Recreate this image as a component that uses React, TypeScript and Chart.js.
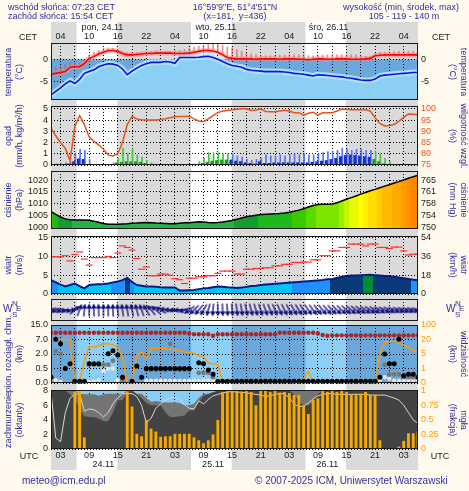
import React, { useEffect, useRef } from 'react';
import { Chart, registerables, LinearScale } from 'chart.js';

Chart.register(...registerables);

// ---------------- DATA (UTC hours from 24.11 00:00) ----------------
const HOURS = Array.from({ length: 78 }, (_, i) => i + 1);
const X_MIN = 1;
const X_MAX = 78;
const GRID_HOURS = [3, 6, 9, 12, 15, 18, 21, 24, 27, 30, 33, 36, 39, 42, 45, 48, 51, 54, 57, 60, 63, 66, 69, 72, 75];
const LABEL_HOURS = [3, 9, 15, 21, 27, 33, 39, 45, 51, 57, 63, 69, 75];
const CET_LABELS = ['04', '10', '16', '22', '04', '10', '16', '22', '04', '10', '16', '22', '04'];
const UTC_LABELS = ['03', '09', '15', '21', '03', '09', '15', '21', '03', '09', '15', '21', '03'];
const TOP_DATE_HOURS = [7.4, 31.3, 55.1];
const TOP_DATE_LABELS = ['pon, 24.11', 'wto, 25.11', 'śro, 26.11'];
const BOTTOM_DATE_HOURS = [12, 35, 59];
const BOTTOM_DATE_LABELS = ['24.11', '25.11', '26.11'];
const SUNRISE_UTC = 6.38;
const SUNSET_UTC = 14.9;
const DAY_OFFSETS = [0, 24, 48, 72];

const TEMP = [-3.4, -3.2, -3.0, -2.8, -1.8, -1.7, -1.7, -1.0, 0.2, 0.6,
  1.2, 1.6, 2.0, 2.0, 1.8, 1.3, 1.0, 1.0, 1.1, 1.2,
  1.3, 1.3, 1.4, 1.4, 1.4, 1.4, 1.3, 1.3, 1.3, 1.4,
  1.6, 1.8, 2.0, 2.0, 1.9, 1.6, 1.0, 0.4, 0.2, 0.1,
  0.1, 0.1, 0.1, 0.0, 0.1, 0.1, 0.1, 0.1, 0.0, 0.1,
  0.1, 0.1, 0.0, 0.0, -0.1, 0.0, 0.1, 0.1, 0.0, 0.0,
  0.1, 0.1, 0.1, 0.0, 0.0, 0.0, 0.1, 0.2, 0.8, 0.9,
  1.0, 1.0, 1.0, 1.0, 1.0, 1.0, 1.0, 1.0];
const TEMP_HI = [-2.2, -1.8, -1.6, -1.2, -0.8, -0.8, -0.9, -0.2, 1.0, 1.6,
  2.0, 2.5, 2.6, 2.5, 2.2, 1.6, 1.4, 1.5, 1.5, 1.6,
  1.7, 1.7, 1.8, 1.8, 1.8, 1.8, 1.9, 2.0, 2.2, 2.4,
  2.8, 3.0, 3.2, 3.4, 3.5, 3.4, 3.2, 2.8, 2.6, 2.2,
  1.8, 1.5, 1.2, 1.0, 0.9, 0.8, 0.8, 0.8, 0.9, 0.9,
  1.0, 1.0, 1.0, 1.0, 0.8, 0.8, 0.8, 0.9, 1.0, 1.0,
  1.0, 1.1, 1.0, 1.0, 1.0, 0.8, 0.7, 0.6, 1.3, 1.6,
  1.6, 1.7, 1.7, 1.8, 1.8, 1.8, 1.8, 1.8];
const DEW = [-8.1, -7.3, -6.5, -5.6, -4.9, -5.5, -4.6, -3.2, -2.8, -2.4,
  -1.7, -1.3, -1.0, -1.1, -1.4, -2.2, -3.5, -2.7, -2.0, -1.4,
  -1.0, -0.7, -0.7, -0.7, -0.5, -0.6, -0.9, 0.4, 0.4, 0.4,
  0.4, 0.45, 0.6, 0.7, 0.4, 0.0, -0.5, -1.0, -1.4, -1.6,
  -1.8, -2.3, -2.5, -2.6, -2.7, -2.8, -2.8, -2.8, -2.8, -2.9,
  -3.0, -3.2, -3.3, -3.4, -3.6, -3.8, -3.5, -3.6, -3.7, -3.8,
  -3.9, -4.0, -4.2, -4.3, -4.5, -4.7, -4.8, -4.8, -4.5, -3.8,
  -3.6, -3.5, -3.4, -3.3, -3.2, -3.1, -3.0, -3.0];

const HUMIDITY = [91.4, 88, 85, 82.4, 77, 92, 97, 93, 87.5, 85.5,
  84, 82, 79.5, 79, 80, 85, 93, 96.6, 95.5, 95.1,
  95, 95, 95, 95.3, 95.6, 96, 96.5, 96.6, 96.6, 96.6,
  95.5, 94.6, 94.3, 95.5, 97, 98.3, 99, 99.3, 99.6, 99.8,
  100, 100, 99.3, 99.5, 100, 98.8, 98.7, 98.7, 99, 99.4,
  99, 98.3, 98.3, 97.2, 98, 98.5, 97.2, 98.2, 98.3, 98.3,
  99, 99.9, 99.8, 99.6, 99.6, 99.6, 99.6, 99, 96, 93.5,
  92.4, 92.6, 93, 94.5, 96.2, 97.7, 97.6, 97.4];
const PRECIP_MEAN = [0, 0.02, 0.03, 0.05, 0.1, 0.3, 0.55, 0.5, 0.05, 0,
  0, 0, 0, 0.05, 0.2, 0.25, 0.3, 0.3, 0.3, 0.25,
  0.15, 0.05, 0, 0, 0, 0, 0, 0, 0, 0,
  0.02, 0.05, 0.15, 0.25, 0.35, 0.4, 0.45, 0.45, 0.45, 0.35,
  0.3, 0.2, 0.15, 0.1, 0.3, 0.15, 0.15, 0.2, 0.2, 0.2,
  0.2, 0.2, 0.2, 0.2, 0.2, 0.25, 0.3, 0.35, 0.4, 0.5,
  0.6, 0.75, 0.85, 0.9, 0.85, 0.8, 0.75, 0.7, 0.5, 0.3,
  0.1, 0, 0, 0, 0, 0, 0, 0.05];
const PRECIP_MAX = [0, 0.1, 0.1, 0.2, 0.3, 1.0, 1.4, 1.3, 0.5, 0,
  0, 0, 0, 0.2, 0.6, 1.5, 1.0, 1.5, 0.9, 0.7,
  0.4, 0.2, 0, 0, 0, 0, 0, 0, 0, 0,
  0.1, 0.3, 0.6, 1.1, 1.1, 1.1, 1.0, 1.0, 1.0, 0.8,
  0.7, 0.5, 0.4, 0.5, 0.6, 0.9, 0.8, 0.8, 0.9, 0.8,
  0.9, 1.0, 0.9, 1.0, 0.9, 0.9, 1.0, 1.1, 1.2, 1.2,
  1.3, 1.5, 1.4, 1.3, 1.4, 1.4, 1.3, 1.3, 1.2, 1.0,
  0.6, 0.3, 0, 0, 0, 0, 0, 0.1];

const PRESSURE = [1006.7, 1005.5, 1004.4, 1003.6, 1003.2, 1003.1, 1003.1, 1003.1, 1003.0, 1002.6,
  1002.2, 1001.6, 1001.3, 1001.3, 1001.3, 1001.4, 1001.5, 1001.7, 1001.8, 1002.0,
  1002.1, 1002.0, 1001.8, 1001.7, 1001.6, 1001.5, 1001.5, 1001.7, 1001.9, 1002.0,
  1002.2, 1002.4, 1002.3, 1002.1, 1002.0, 1002.1, 1002.3, 1002.6, 1002.9, 1003.4,
  1004.0, 1004.5, 1004.8, 1005.1, 1005.4, 1005.6, 1005.7, 1005.8, 1005.9, 1006.1,
  1006.4, 1006.8, 1007.3, 1007.9, 1008.6, 1009.3, 1009.7, 1009.8, 1009.8, 1009.9,
  1010.4, 1011.2, 1011.9, 1012.6, 1013.3, 1014.1, 1014.8, 1015.5, 1016.1, 1016.8,
  1017.5, 1018.1, 1018.8, 1019.4, 1020.1, 1020.8, 1021.5, 1022.1];

const WIND = [3.7, 3.1, 2.5, 2.0, 2.4, 2.8, 2.1, 1.5, 2.4, 2.5,
  2.6, 2.65, 2.8, 3.1, 3.3, 3.7, 4.3, 3.2, 2.4, 2.2,
  2.0, 2.0, 1.9, 1.8, 1.75, 1.75, 1.75, 0.9, 0.9, 1.0,
  1.05, 1.3, 1.5, 1.6, 1.8, 2.0, 1.9, 1.8, 1.75, 1.6,
  1.7, 1.9, 2.1, 2.2, 2.4, 2.5, 2.6, 2.7, 2.8, 2.9,
  3.0, 3.1, 3.2, 3.3, 3.4, 3.5, 3.6, 3.7, 3.9, 4.0,
  4.3, 4.6, 4.8, 4.9, 4.95, 5.0, 5.05, 5.1, 5.0, 4.9,
  4.8, 4.7, 4.6, 4.4, 4.2, 4.0, 3.8, 3.7];
const GUST = [9.9, 9.9, 9.9, 10.2, 8.8, 10.5, 11.2, 9.3, 7.7, 9.7,
  9.7, 9.7, 10.0, 9.7, 10.9, 12.8, 12.4, 11.7, 9.45, 6.6,
  7.2, 4.85, 4.85, 5.3, 5.3, 5.0, 4.1, 3.8, 2.8, 4.2,
  4.2, 4.6, 4.6, 4.85, 4.85, 5.5, 6.1, 6.1, 6.1, 5.3,
  5.3, 6.6, 6.6, 6.8, 6.8, 7.0, 7.0, 7.5, 7.5, 7.9,
  7.9, 8.4, 8.4, 8.5, 8.5, 9.1, 9.1, 10.2, 10.2, 11.5,
  11.5, 12.4, 12.4, 13.3, 13.3, 13.3, 12.8, 13.3, 13.3, 12.4,
  12.4, 12.1, 12.5, 12.5, 11.5, 10.4, 10.6, 10.6];
const WIND_DIR = [290, 290, 288, 285, 270, 230, 200, 185, 180, 178,
  178, 180, 180, 178, 175, 172, 170, 168, 165, 160,
  150, 140, 130, 120, 105, 95, 90, 85, 70, 55,
  45, 40, 30, 15, 5, 0, 358, 355, 355, 352,
  350, 348, 345, 343, 342, 340, 338, 337, 335, 333,
  332, 330, 328, 326, 325, 323, 322, 320, 318, 316,
  315, 313, 312, 310, 308, 306, 305, 303, 302, 300,
  298, 297, 295, 294, 293, 292, 291, 290];

const CB_BLACK = [0.2, 7.2, 5.5, 0.5, 1.0, 0.06, 0.06, 0.06, 1.0, 1.0,
  1.0, null, 2.1, 3.1, 1.9, 0.2, null, 0.06, 0.75, 0.2,
  0.5, 0.5, 0.5, 0.5, 0.5, 0.5, 0.5, 0.5, 0.5, 0.5,
  null, 1.1, 1.0, 0.45, 0.3, 0.06, 0.06, 0.06, 0.06, 0.06,
  0.06, 0.06, 0.06, 0.06, 0.06, 0.06, 0.06, 0.06, 0.06, 0.06,
  0.06, 0.06, 0.06, 0.06, 0.06, 0.06, 0.06, 0.06, 0.06, 0.06,
  0.06, 0.06, 0.06, 0.06, 0.06, 0.06, 0.06, 0.06, 0.06, 0.2,
  2.0, 1.0, 1.0, 7.2, 0.25, 0.3, 0.3, 0.2];
const CB_GRAY = [null, 3.0, 2.0, null, null, null, null, null, 0.9, 0.9,
  0.9, 0.9, 0.9, 1.3, null, 0.1, null, null, null, null,
  0.45, 0.45, 0.45, 0.45, 0.45, 5.5, 0.45, 0.45, 0.45, 0.45,
  null, 0.35, 0.35, 0.35, 0.2, null, null, null, null, null,
  null, null, null, null, null, null, null, null, null, null,
  null, null, null, null, null, null, null, null, null, null,
  null, null, null, null, null, null, null, null, null, null,
  0.9, 0.3, 0.3, 0.3, 0.2, 0.2, 0.2, null];
const CB_LIGHT = [0.15, 0.1, 0.05, null, null, null, null, null, 0.05, 0.05,
  0.1, 0.4, 0.5, 0.5, 0.1, null, null, null, null, null,
  0.08, 0.08, 0.08, 0.08, 0.08, 0.08, 0.08, 0.08, 0.08, 0.08,
  0.08, 0.08, 0.08, 0.08, 0.08, 0.08, null, null, null, null,
  null, null, null, null, null, null, null, null, null, null,
  null, null, null, null, null, null, null, null, null, null,
  null, null, null, null, null, null, null, null, null, 0.1,
  0.2, 0.15, 0.08, 0.08, 0.08, 0.08, 0.08, 0.08];
const CB_TOP = [10.7, 10.7, 10.7, 10.7, 10.7, 10.7, 10.7, 10.7, 10.7, 10.7,
  10.7, 10.7, 10.7, 10.7, 10.7, 10.7, 10.7, 10.7, 10.7, 10.7,
  10.7, 10.7, 10.7, 10.7, 10.7, 10.7, 10.7, 10.7, 10.7, 10.3,
  9.9, 9.9, 9.9, 9.9, 9.1, 9.9, 9.9, 9.9, 9.9, 9.9,
  9.9, 9.9, 9.9, 9.9, 9.9, 9.9, 9.9, 9.9, 10.7, 10.7,
  10.7, 10.7, 10.7, 10.7, 10.7, 10.7, 10.3, 9.5, 9.1, 9.3,
  9.3, 9.3, 9.3, 9.3, 9.3, 9.3, 9.3, 9.3, 9.3, 9.3,
  9.3, 9.3, 9.3, 9.3, 9.3, 9.3, 9.3, 9.3];
const VIS = [20, 20, 20, 20, 20, 0.07, 0.07, 3.0, 13, 12,
  13.5, 15.4, 15.8, 14.5, 12, 4, 0.07, 0.1, 4.4, 7.1,
  3.8, 10.7, 11, 11, 10.5, 10, 9.5, 8.6, 7.2, 6.5,
  5.6, 4.6, 4.2, 2.5, 2.3, 2.2, 0.1, 0.07, 0.07, 0.07,
  0.07, 0.07, 0.07, 0.15, 0.07, 0.07, 0.07, 0.07, 0.07, 0.07,
  0.07, 0.07, 0.07, 0.3, 0.8, 0.07, 0.07, 0.07, 0.07, 0.07,
  0.07, 0.07, 0.07, 0.07, 0.07, 0.07, 0.07, 0.07, 0.1, 6,
  17, 18, 18.5, 17.5, 14, 12, 9, 7];

const CC_TOTAL = [8, 8, 8, 8, 8, 8, 7.6, 7.5, 7.5, 7.5,
  7.3, 7.5, 7.6, 7.6, 7.6, 7.6, 8, 8, 7.6, 7.6,
  7.0, 6.5, 6.6, 6.5, 6.4, 6.4, 6.4, 6.3, 6.0, 6.0,
  6.2, 7.0, 7.6, 7.6, 7.8, 8, 8, 8, 8, 8,
  8, 8, 8, 8, 8, 8, 8, 8, 8, 8,
  8, 8, 8, 8, 8, 8, 8, 8, 8, 8,
  8, 8, 8, 8, 8, 8, 8, 8, 8, 8,
  8, 8, 8, 8, 8, 8, 8, 8];
const CC_DARK = [8, 8, 8, 8, 7.5, 7, 5.5, 4.5, 4.4, 4.4,
  4.2, 3.8, 3.8, 5.0, 6.7, 6.7, 7.8, 8, 7.5, 7.0,
  6.3, 6.0, 6.0, 6.0, 5.0, 4.4, 4.4, 4.5, 4.6, 5.3,
  5.3, 6.5, 7.3, 7.5, 7.8, 8, 8, 8, 8, 8,
  8, 8, 8, 8, 8, 8, 8, 8, 8, 8,
  8, 7.5, 6.5, 6.0, 6.0, 6.5, 7.5, 8, 8, 8,
  8, 8, 8, 8, 8, 8, 8, 8, 8, 8,
  8, 8, 8, 8, 8, 8, 8, 8];
const CC_LINE = [7.9, 1.5, 1.0, 5.0, 7.0, 7.5, 7.6, 5.2, 5.5, 5.4,
  5.0, 4.4, 5.0, 6.2, 7.0, 7.6, 7.6, 7.6, 7.2, 6.0,
  3.6, 4.2, 5.6, 6.2, 6.7, 7.0, 7.1, 6.8, 6.1, 5.6,
  5.5, 6.6, 6.2, 6.8, 7.3, 7.5, 7.7, 7.8, 7.9, 7.8,
  7.8, 7.7, 7.6, 7.5, 7.4, 7.2, 7.3, 7.5, 7.6, 7.6,
  7.0, 6.2, 5.8, 5.9, 6.3, 6.9, 7.3, 7.5, 7.6, 7.6,
  7.5, 7.5, 7.5, 7.5, 7.5, 7.5, 7.5, 7.4, 7.4, 7.4,
  7.4, 7.2, 7.0, 6.7, 6.0, 5.0, 4.0, 3.5];
const FOG = [0, 0, 0, 0, 0, 0.98, 0.98, 0.2, 0, 0,
  0, 0, 0, 0, 0, 0, 0.98, 0.73, 0.26, 0.22,
  0.5, 0.35, 0.3, 0.21, 0.22, 0.22, 0.26, 0.26, 0.26, 0.26,
  0.2, 0.15, 0.1, 0.15, 0.25, 0.5, 0.98, 1, 1, 1,
  0.98, 1, 0.98, 0.75, 1, 1, 0.98, 1, 0.97, 0.98,
  0.96, 0.93, 0.93, 0.75, 0.6, 0.84, 0.87, 1, 0.98, 1,
  0.98, 1, 0.98, 0.93, 0.95, 0.95, 0.98, 0.93, 0.93, 0.15,
  0, 0, 0, 0.04, 0.14, 0.27, 0.27, 0.3];

// axis ticks
const TEMP_TICKS = [-5, 0];
const PRECIP_TICKS = [0, 1, 2, 3, 4, 5];
const HUM_TICKS = [75, 80, 85, 90, 95, 100];
const PRESS_TICKS = [1000, 1005, 1010, 1015, 1020];
const WIND_TICKS = [0, 5, 10, 15];
const CB_TICKS = [0, 0.5, 2, 7, 15];
const VIS_TICKS = [0, 1, 5, 20, 100];
const CC_TICKS = [0, 2, 4, 6, 8];
const FOG_TICKS = [0, 0.25, 0.5, 0.75, 1];

// ---------------- STYLE ----------------
const FONT = "'Liberation Sans', Arial, Helvetica, sans-serif";
const NAVY = '#30309c';
const TICK = '#1a1a1a';
const BG = '#fff9ee';
const NIGHT = '#dadada';
const DAY = '#ffffff';
const W = 469;

// piecewise (non-linear) axis for the cloud-extent / visibility panel
const STOPS: Record<string, number[]> = { ycb: CB_TICKS, yvis: VIS_TICKS };
class PiecewiseScale extends LinearScale {
  static id = 'piecewise';
  static defaults = {};
  determineDataLimits() {
    const s = STOPS[(this as any).id];
    (this as any).min = s[0];
    (this as any).max = s[s.length - 1];
  }
  buildTicks() {
    return STOPS[(this as any).id].map((v) => ({ value: v }));
  }
  getPixelForValue(value: number) {
    const s = STOPS[(this as any).id];
    const n = s.length - 1;
    let idx = n;
    if (value <= s[0]) idx = 0;
    else {
      for (let i = 0; i < n; i++) {
        if (value <= s[i + 1]) { idx = i + (value - s[i]) / (s[i + 1] - s[i]); break; }
      }
    }
    return (this as any).getPixelForDecimal(idx / n);
  }
}
Chart.register(PiecewiseScale as any);

const pts = (arr: (number | null)[]) => HOURS.map((h, i) => ({ x: h, y: arr[i] }));

const PRESS_COLORS: [number, string][] = [[1003.2, '#2ab04a'], [1005.3, '#159c30'], [1006.5, '#1cb81c'], [1008, '#3cc800'],
  [1009.5, '#5ad800'], [1010.5, '#7de600'], [1011.5, '#a0ee00'], [1012.5, '#c4f500'], [1013.5, '#e6fb00'],
  [1014.5, '#ffff00'], [1015.5, '#ffee00'], [1016.5, '#ffdd00'], [1017.5, '#ffcc00'], [1018.5, '#ffbb00'],
  [1019.5, '#ffaa00'], [1020.5, '#ff9c00'], [1021.5, '#ff9000'], [Infinity, '#ff8400']];
const pressColor = (v: number) => PRESS_COLORS.find((p) => v < p[0])![1];
const windColor = (v: number) => (v < 3.05 ? '#00c4ff' : v < 3.95 ? '#1e8fff' : v < 5.03 ? '#0b3a78' : '#008a35');

function stepGradient(chart: any, values: number[], colorFn: (v: number) => string) {
  const a = chart.chartArea;
  if (!a) return 'rgba(0,0,0,0)';
  const xs = chart.scales.x;
  const w = a.right - a.left;
  const g = chart.ctx.createLinearGradient(a.left, 0, a.right, 0);
  const clamp = (t: number) => Math.min(1, Math.max(0, t));
  HOURS.forEach((h, i) => {
    const c = colorFn(values[i]);
    g.addColorStop(clamp((xs.getPixelForValue(h - 0.5) - a.left) / w), c);
    g.addColorStop(clamp((xs.getPixelForValue(h + 0.5) - a.left) / w), c);
  });
  return g;
}

function fillDayNight(chart: any, xs: any, y0: number, y1: number, night: string, day: string) {
  const ctx = chart.ctx;
  const l = xs.getPixelForValue(X_MIN);
  const r = xs.getPixelForValue(X_MAX);
  ctx.save();
  ctx.fillStyle = night;
  ctx.fillRect(l, y0, r - l, y1 - y0);
  ctx.fillStyle = day;
  DAY_OFFSETS.forEach((o) => {
    const p0 = Math.max(l, xs.getPixelForValue(o + SUNRISE_UTC));
    const p1 = Math.min(r, xs.getPixelForValue(o + SUNSET_UTC));
    if (p1 > p0) ctx.fillRect(p0, y0, p1 - p0, y1 - y0);
  });
  ctx.restore();
}

const framePlugin = {
  id: 'frame',
  afterDraw(chart: any) {
    const { ctx, chartArea: a } = chart;
    ctx.save();
    ctx.strokeStyle = '#1a1a1a';
    ctx.lineWidth = 1;
    ctx.strokeRect(a.left + 0.5, a.top + 0.5, a.right - a.left - 1, a.bottom - a.top - 1);
    ctx.restore();
  },
};

const gridX = () => ({
  type: 'linear', position: 'bottom', min: X_MIN, max: X_MAX, offset: false,
  afterBuildTicks: (s: any) => { s.ticks = GRID_HOURS.map((v) => ({ value: v })); },
  afterFit: (s: any) => { s.height = 0; },
  ticks: { display: false },
  grid: { color: '#000', lineWidth: 1, drawTicks: false, offset: false },
  border: { display: false, dash: [1, 2] },
  z: 1,
});

const labelX = (position: string, hours: number[], labels: string[], height: number, padding: number, align = 'center') => ({
  type: 'linear', position, min: X_MIN, max: X_MAX, offset: false,
  afterBuildTicks: (s: any) => { s.ticks = hours.map((v) => ({ value: v })); },
  afterFit: (s: any) => { s.height = height; },
  ticks: {
    autoSkip: false, maxRotation: 0, minRotation: 0, padding, align, color: TICK,
    font: { family: FONT, size: 9 }, callback: (_v: any, i: number) => labels[i],
  },
  grid: { display: false, drawTicks: false },
  border: { display: false },
});

const yAxis = (position: string, o: any) => ({
  type: o.type || 'linear', position, min: o.min, max: o.max,
  afterBuildTicks: o.ticks ? (s: any) => { s.ticks = o.ticks.map((v: number) => ({ value: v })); } : undefined,
  afterFit: (s: any) => { s.width = 51; },
  ticks: {
    display: o.hide ? false : true, autoSkip: false, padding: 3, color: o.color || TICK,
    font: { family: FONT, size: 9 }, callback: o.fmt || ((v: number) => String(v)),
  },
  grid: position === 'left' && !o.hide ? { color: '#000', lineWidth: 1, drawTicks: false } : { display: false, drawTicks: false },
  border: { display: false, dash: [1, 2] },
  z: 1,
});

function makeChart(canvas: HTMLCanvasElement, scales: any, datasets: any[], padding: any, plugins: any[] = []) {
  return new Chart(canvas as any, {
    type: 'line',
    data: { datasets },
    options: {
      responsive: false,
      animation: false,
      events: [],
      layout: { padding },
      plugins: { legend: { display: false }, tooltip: { enabled: false }, title: { display: false } },
      elements: { line: { tension: 0 }, point: { radius: 0 } },
      scales,
    } as any,
    plugins: [...plugins, framePlugin],
  } as any);
}

function makeArrow() {
  const c = document.createElement('canvas');
  c.width = 14;
  c.height = 14;
  const g = c.getContext('2d')!;
  g.strokeStyle = '#10107e';
  g.fillStyle = '#10107e';
  g.lineWidth = 1.3;
  g.beginPath();
  g.moveTo(7, 13.5);
  g.lineTo(7, 4);
  g.stroke();
  g.beginPath();
  g.moveTo(7, 0.5);
  g.lineTo(4.2, 5.5);
  g.lineTo(9.8, 5.5);
  g.closePath();
  g.fill();
  return c;
}

// ---------------- TEXT HELPERS ----------------
const Txt = ({ x, y, text, size = 9, color = NAVY, align = 'left' as any }: any) => {
  const style: any = {
    position: 'absolute', top: y - 6, fontSize: size, lineHeight: '12px', color,
    whiteSpace: 'pre', fontFamily: FONT,
  };
  if (align === 'center') { style.left = x - 150; style.width = 300; style.textAlign = 'center'; }
  else { style.left = x; }
  return <div style={style}>{text}</div>;
};

const VTitle = ({ cx, cy, lines, side }: any) => (
  <div style={{
    position: 'absolute', left: cx, top: cy, transform: `translate(-50%, -50%) rotate(${side === 'left' ? -90 : 90}deg)`,
    textAlign: 'center', whiteSpace: 'nowrap', fontSize: 9, lineHeight: '11px', color: NAVY, fontFamily: FONT,
  }}>
    {lines.map((l: string, i: number) => <div key={i}>{l}</div>)}
  </div>
);

const Compass = ({ left, top }: any) => {
  const s = (l: number, t: number, ch: string, size: number) => (
    <span style={{ position: 'absolute', left: l, top: t, fontSize: size, lineHeight: 1, color: NAVY, fontFamily: FONT }}>{ch}</span>
  );
  return (
    <div style={{ position: 'absolute', left, top, width: 22, height: 20 }}>
      {s(0, 4, 'W', 10)}{s(9, 0, 'N', 8)}{s(13, 5, 'E', 8)}{s(9, 11, 'S', 8)}
    </div>
  );
};

// ---------------- APP ----------------
export default function App() {
  const bgRef = useRef<HTMLCanvasElement>(null);
  const tRef = useRef<HTMLCanvasElement>(null);
  const pRef = useRef<HTMLCanvasElement>(null);
  const prRef = useRef<HTMLCanvasElement>(null);
  const wRef = useRef<HTMLCanvasElement>(null);
  const dRef = useRef<HTMLCanvasElement>(null);
  const cbRef = useRef<HTMLCanvasElement>(null);
  const ccRef = useRef<HTMLCanvasElement>(null);

  useEffect(() => {
    const arrow = makeArrow();
    const charts: Chart[] = [];

    // background day/night band + date labels
    charts.push(new Chart(bgRef.current as any, {
      type: 'line',
      data: { datasets: [] },
      options: {
        responsive: false, animation: false, events: [],
        layout: { padding: { left: 51, right: 51, top: 0, bottom: 0 } },
        plugins: { legend: { display: false }, tooltip: { enabled: false } },
        scales: {
          xd: labelX('top', TOP_DATE_HOURS, TOP_DATE_LABELS, 11, 0, 'start'),
          xb: labelX('bottom', BOTTOM_DATE_HOURS, BOTTOM_DATE_LABELS, 11, 0, 'center'),
          y: { display: false, min: 0, max: 1 },
        },
      } as any,
      plugins: [{
        id: 'dayNight',
        beforeDraw(chart: any) { fillDayNight(chart, chart.scales.xd, 0, chart.height, NIGHT, DAY); },
      }],
    } as any));

    // temperature
    charts.push(makeChart(tRef.current!, {
      x: gridX(),
      xTop: labelX('top', LABEL_HOURS, CET_LABELS, 21, 1),
      y: yAxis('left', { min: -9.25, max: 3.7, ticks: TEMP_TICKS }),
      y2: yAxis('right', { min: -9.25, max: 3.7, ticks: TEMP_TICKS }),
    }, [
      { label: 'temperatura', data: pts(TEMP), borderColor: '#ff0000', borderWidth: 1.6, pointRadius: 0, order: 1 },
      { label: 'temp-halo', data: pts(TEMP), borderColor: 'rgba(255,130,130,0.5)', borderWidth: 5, pointRadius: 0, order: 2 },
      { label: 'punkt rosy', data: pts(DEW), borderColor: '#0a14e0', borderWidth: 1.6, pointRadius: 0, order: 3 },
      { label: 'dew-halo', data: pts(DEW), borderColor: 'rgba(185,228,255,0.85)', borderWidth: 6, pointRadius: 0, order: 4 },
      {
        type: 'bar', label: 'zakres', data: HOURS.map((h, i) => ({ x: h, y: [TEMP[i], TEMP_HI[i]] })),
        backgroundColor: 'rgba(225,70,70,0.6)', barThickness: 1, order: 5,
      },
      {
        label: 'dew-fill', data: pts(DEW), borderColor: 'rgba(0,0,0,0)', borderWidth: 0,
        backgroundColor: '#8ccff5', fill: 'start', pointRadius: 0, order: 6,
      },
    ], { top: 0, bottom: 14, left: 0, right: 0 }, [{
      id: 'tempBg',
      beforeDraw(chart: any) {
        const { ctx, chartArea: a, scales } = chart;
        const y0 = scales.y.getPixelForValue(0);
        ctx.save();
        ctx.fillStyle = '#6aa8dc';
        ctx.fillRect(a.left, y0, a.right - a.left, a.bottom - y0);
        ctx.restore();
      },
    }]));

    // precipitation + humidity
    charts.push(makeChart(pRef.current!, {
      x: gridX(),
      y: yAxis('left', { min: 0, max: 5.25, ticks: PRECIP_TICKS }),
      y2: yAxis('right', { min: 75, max: 101.25, ticks: HUM_TICKS, color: '#e8581c' }),
    }, [
      { label: 'wilgotność', data: pts(HUMIDITY), yAxisID: 'y2', borderColor: '#e5531a', borderWidth: 1.5, pointRadius: 0, order: 1 },
      {
        type: 'bar', label: 'opad', data: pts(PRECIP_MEAN),
        backgroundColor: (c: any) => (TEMP[c.dataIndex] > 0.3 ? '#1a9e1a' : '#1233cc'),
        barPercentage: 1, categoryPercentage: 1, order: 2,
      },
      {
        type: 'bar', label: 'opad max', data: pts(PRECIP_MAX),
        backgroundColor: (c: any) => (TEMP[c.dataIndex] > 0.3 ? '#3fc43f' : '#5a70f5'),
        barThickness: 1, order: 3,
      },
    ], { top: 14, bottom: 14, left: 0, right: 0 }));

    // pressure
    charts.push(makeChart(prRef.current!, {
      x: gridX(),
      y: yAxis('left', { min: 999.3, max: 1023.9, ticks: PRESS_TICKS }),
      y2: yAxis('right', { min: 999.3, max: 1023.9, ticks: PRESS_TICKS, fmt: (v: number) => String(Math.round(v * 0.750062)) }),
    }, [
      {
        label: 'ciśnienie', data: pts(PRESSURE), borderColor: '#000', borderWidth: 1.5, pointRadius: 0,
        fill: 'start', backgroundColor: (c: any) => stepGradient(c.chart, PRESSURE, pressColor),
      },
    ], { top: 14, bottom: 14, left: 0, right: 0 }));

    // wind
    charts.push(makeChart(wRef.current!, {
      x: gridX(),
      y: yAxis('left', { min: 0, max: 15.45, ticks: WIND_TICKS }),
      y2: yAxis('right', { min: 0, max: 15.45, ticks: WIND_TICKS, fmt: (v: number) => String(Math.round(v * 3.6)) }),
    }, [
      {
        label: 'porywy', data: pts(GUST), showLine: false, pointStyle: 'line', pointRadius: 3.5,
        pointBorderColor: '#ff3030', pointBorderWidth: 1.2, order: 1,
      },
      {
        label: 'wiatr', data: pts(WIND), borderColor: '#0a1a80', borderWidth: 2, pointRadius: 0,
        fill: 'start', backgroundColor: (c: any) => stepGradient(c.chart, WIND, windColor), order: 2,
      },
    ], { top: 14, bottom: 14, left: 0, right: 0 }));

    // wind direction
    charts.push(makeChart(dRef.current!, {
      x: gridX(),
      y: yAxis('left', { min: 0, max: 1, ticks: [], hide: true }),
      y2: yAxis('right', { min: 0, max: 1, ticks: [], hide: true }),
    }, [
      {
        label: 'kierunek', data: HOURS.map((h) => ({ x: h, y: 0.5 })), showLine: false,
        pointStyle: arrow, pointRadius: 6,
        pointRotation: (c: any) => (WIND_DIR[c.dataIndex] + 180) % 360,
      },
    ], { top: 6, bottom: 6, left: 0, right: 0 }));

    // cloud extent + visibility
    charts.push(makeChart(cbRef.current!, {
      x: gridX(),
      ycb: yAxis('left', { type: 'piecewise', fmt: (v: number) => v.toFixed(1) }),
      yvis: yAxis('right', { type: 'piecewise', color: '#ff9a00' }),
    }, [
      { label: 'c1', data: pts(CB_BLACK), yAxisID: 'ycb', showLine: false, pointRadius: 2.5, pointBackgroundColor: '#000', pointBorderWidth: 0, order: 1 },
      { label: 'c2', data: pts(CB_GRAY), yAxisID: 'ycb', showLine: false, pointRadius: 2.4, pointBackgroundColor: '#777', pointBorderWidth: 0, order: 2 },
      { label: 'c3', data: pts(CB_LIGHT), yAxisID: 'ycb', showLine: false, pointRadius: 2.2, pointBackgroundColor: '#e4e4e4', pointBorderWidth: 0, order: 3 },
      { label: 'c4', data: pts(CB_TOP), yAxisID: 'ycb', showLine: false, pointRadius: 2.2, pointBackgroundColor: '#a82828', pointBorderWidth: 0, order: 4 },
      { label: 'widzialność', data: pts(VIS), yAxisID: 'yvis', borderColor: '#ff9900', borderWidth: 1.5, pointRadius: 0, order: 5 },
    ], { top: 14, bottom: 14, left: 0, right: 0 }, [{
      id: 'cbBg',
      beforeDraw(chart: any) {
        const a = chart.chartArea;
        fillDayNight(chart, chart.scales.x, a.top, a.bottom, '#6aa7db', '#8ccff5');
      },
    }]));

    // cloud cover + fog
    charts.push(makeChart(ccRef.current!, {
      x: gridX(),
      xBot: labelX('bottom', LABEL_HOURS, UTC_LABELS, 21, 1.5),
      y: yAxis('left', { min: 0, max: 8.1, ticks: CC_TICKS }),
      y2: yAxis('right', { min: 0, max: 1.0125, ticks: FOG_TICKS, color: '#ff9a00' }),
    }, [
      { type: 'bar', label: 'mgła', data: pts(FOG), yAxisID: 'y2', backgroundColor: '#f7aa00', barPercentage: 0.6, categoryPercentage: 1, order: 1 },
      { label: 'cc-line', data: pts(CC_LINE), borderColor: '#d6d6d6', borderWidth: 1, pointRadius: 0, order: 2 },
      { label: 'cc-dark', data: pts(CC_DARK), borderColor: 'rgba(0,0,0,0)', borderWidth: 0, fill: 'start', backgroundColor: '#434343', pointRadius: 0, order: 3 },
      { label: 'cc-total', data: pts(CC_TOTAL), borderColor: 'rgba(0,0,0,0)', borderWidth: 0, fill: 'start', backgroundColor: '#747474', pointRadius: 0, order: 4 },
    ], { top: 14, bottom: 0, left: 0, right: 0 }, [{
      id: 'ccBg',
      beforeDraw(chart: any) {
        const { ctx, chartArea: a } = chart;
        ctx.save();
        ctx.fillStyle = '#87cdf6';
        ctx.fillRect(a.left, a.top, a.right - a.left, a.bottom - a.top);
        ctx.restore();
      },
    }]));

    return () => charts.forEach((c) => c.destroy());
  }, []);

  const cs = (top: number): any => ({ position: 'absolute', left: 0, top, display: 'block' });

  return (
    <div style={{ position: 'absolute', left: 0, top: 0, width: W, height: 491, background: BG, overflow: 'hidden', fontFamily: FONT }}>
      <canvas ref={bgRef} width={W} height={448} style={cs(22)} />
      <canvas ref={tRef} width={W} height={92} style={cs(22)} />
      <canvas ref={pRef} width={W} height={87} style={cs(92)} />
      <canvas ref={prRef} width={W} height={86} style={cs(157)} />
      <canvas ref={wRef} width={W} height={86} style={cs(222)} />
      <canvas ref={dRef} width={W} height={36} style={cs(292)} />
      <canvas ref={cbRef} width={W} height={86} style={cs(311)} />
      <canvas ref={ccRef} width={W} height={94} style={cs(376)} />

      <Txt x={8} y={7} text="wschód słońca: 07:23 CET" />
      <Txt x={8} y={16} text="zachód słońca: 15:54 CET" />
      <Txt x={235} y={7} text={'16°59\'9"E, 51°4\'51"N'} align="center" />
      <Txt x={235} y={16} text="(x=181,  y=436)" align="center" />
      <Txt x={401} y={7} text="wysokość (min, środek, max)" align="center" />
      <Txt x={404} y={16} text="105 - 119 - 140 m" align="center" />
      <Txt x={28} y={37} text="CET" align="center" color={TICK} />
      <Txt x={441} y={37} text="CET" align="center" color={TICK} />
      <Txt x={29} y={456} text="UTC" align="center" color={TICK} />
      <Txt x={440} y={456} text="UTC" align="center" color={TICK} />
      <Txt x={22} y={481} text="meteo@icm.edu.pl" size={10} />
      <Txt x={255} y={481} text="© 2007-2025 ICM, Uniwersytet Warszawski" size={10} />

      <VTitle cx={13.5} cy={71.5} lines={['temperatura', '(°C)']} side="left" />
      <VTitle cx={457.5} cy={71.5} lines={['temperatura', '(°C)']} side="right" />
      <VTitle cx={13.5} cy={135.5} lines={['opad', '(mm/h, kg/m²/h)']} side="left" />
      <VTitle cx={457.5} cy={135.5} lines={['wilgotność wzgl.', '(%)']} side="right" />
      <VTitle cx={13.5} cy={200} lines={['ciśnienie', '(hPa)']} side="left" />
      <VTitle cx={457.5} cy={200} lines={['ciśnienie', '(mm Hg)']} side="right" />
      <VTitle cx={13.5} cy={265} lines={['wiatr', '(m/s)']} side="left" />
      <VTitle cx={457.5} cy={265} lines={['wiatr', '(km/h)']} side="right" />
      <VTitle cx={13.5} cy={354} lines={['pion. rozciągł. chm.', '(km)']} side="left" />
      <VTitle cx={457.5} cy={354} lines={['widzialność', '(km)']} side="right" />
      <VTitle cx={13.5} cy={419.5} lines={['zachmurzenie', '(oktanty)']} side="left" />
      <VTitle cx={457.5} cy={419.5} lines={['mgła', '(frakcja)']} side="right" />
      <Compass left={3} top={300} />
      <Compass left={446} top={300} />
    </div>
  );
}
